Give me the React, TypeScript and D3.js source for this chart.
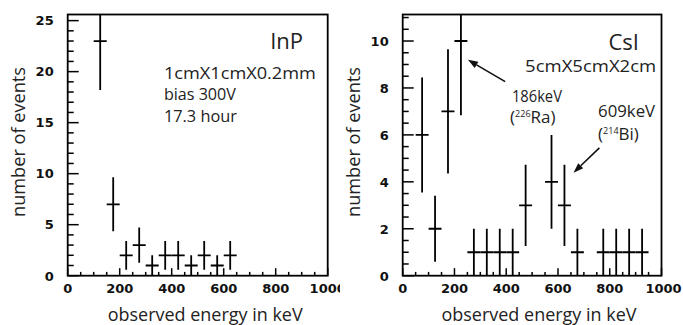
import { useRef, useEffect } from 'react';
import * as d3 from 'd3';

const WIDTH = 683;
const HEIGHT = 325;

// InP detector spectrum (50 keV bins)
const inpEnergy = [125, 175, 225, 275, 325, 375, 425, 475, 525, 575, 625];
const inpCounts = [23, 7, 2, 3, 1, 2, 2, 1, 2, 1, 2];
const inpErrors = [4.8, 2.65, 1.41, 1.73, 1, 1.41, 1.41, 1, 1.41, 1, 1.41];

// CsI detector spectrum (50 keV bins)
const csiEnergy = [75, 125, 175, 225, 275, 325, 375, 425, 475, 575, 625, 675, 775, 825, 875, 925];
const csiCounts = [6, 2, 7, 10, 1, 1, 1, 1, 3, 4, 3, 1, 1, 1, 1, 1];
const csiErrors = [2.45, 1.41, 2.65, 3.16, 1, 1, 1, 1, 1.73, 2, 1.73, 1, 1, 1, 1, 1];

const binHalfWidth = 25;

const xTickLabels = ['0', '200', '400', '600', '800', '1000'];
const inpYTickLabels = ['0', '5', '10', '15', '20', '25'];
const csiYTickLabels = ['0', '2', '4', '6', '8', '10'];

const xTitle = 'observed energy in keV';
const yTitle = 'number of events';

const TEXT_FONT = '"Open Sans", "DejaVu Sans", sans-serif';
const NUM_FONT = '"DejaVu Sans", sans-serif';

const drawPanel = (svg, cfg) => {
  const { x0, x1, top, bottom, yMax, yMajor, yMinorStep, yLabels, energy, counts, errors, clipRight } = cfg;
  const x = d3.scaleLinear().domain([0, 1000]).range([x0, x1]);
  const y = d3.scaleLinear().domain([0, yMax]).range([bottom, top]);

  const root = svg.append('g');
  if (clipRight) {
    root.append('clipPath').attr('id', `pc-${cfg.id}`)
      .append('rect').attr('x', 0).attr('y', 0).attr('width', clipRight).attr('height', HEIGHT);
    root.attr('clip-path', `url(#pc-${cfg.id})`);
  }

  // data clip
  root.append('clipPath').attr('id', `dc-${cfg.id}`)
    .append('rect').attr('x', x0).attr('y', top).attr('width', x1 - x0).attr('height', bottom - top);

  // x ticks (minor every 50, major every 200)
  const xMinor = d3.range(0, 1001, 50);
  root.append('g').selectAll('line').data(xMinor).join('line')
    .attr('x1', d => x(d)).attr('x2', d => x(d))
    .attr('y1', bottom).attr('y2', d => bottom - (d % 200 === 0 ? 7.5 : 3.8))
    .attr('stroke', '#000').attr('stroke-width', 1.5);

  // y ticks
  const yMinor = d3.range(0, yMax, yMinorStep);
  root.append('g').selectAll('line').data(yMinor).join('line')
    .attr('y1', d => y(d)).attr('y2', d => y(d))
    .attr('x1', x0).attr('x2', d => x0 + (yMajor.includes(+d.toFixed(2)) ? 11 : 6))
    .attr('stroke', '#000').attr('stroke-width', 1.5);

  // x tick labels
  root.append('g').selectAll('text').data(xTickLabels).join('text')
    .attr('x', (d, i) => x(+d) + (cfg.lastShift && i === xTickLabels.length - 1 ? cfg.lastShift : 0))
    .attr('y', bottom + 17)
    .attr('text-anchor', 'middle')
    .attr('font-family', NUM_FONT).attr('font-weight', 'bold').attr('font-size', 13)
    .attr('fill', '#111')
    .text(d => d);

  // y tick labels
  root.append('g').selectAll('text').data(yLabels).join('text')
    .attr('x', x0 - 14)
    .attr('y', d => y(+d) + 4.8)
    .attr('text-anchor', 'end')
    .attr('font-family', NUM_FONT).attr('font-weight', 'bold').attr('font-size', 13)
    .attr('fill', '#111')
    .text(d => d);

  // error bars
  const pts = energy.map((e, i) => ({ e, n: counts[i], err: errors[i] }));
  const data = root.append('g').attr('clip-path', `url(#dc-${cfg.id})`);
  data.selectAll('line.v').data(pts).join('line').attr('class', 'v')
    .attr('x1', d => x(d.e)).attr('x2', d => x(d.e))
    .attr('y1', d => y(d.n - d.err)).attr('y2', d => y(d.n + d.err))
    .attr('stroke', '#000').attr('stroke-width', 1.8);
  data.selectAll('line.h').data(pts).join('line').attr('class', 'h')
    .attr('x1', d => x(d.e - binHalfWidth)).attr('x2', d => x(d.e + binHalfWidth))
    .attr('y1', d => y(d.n)).attr('y2', d => y(d.n))
    .attr('stroke', '#000').attr('stroke-width', 1.8);

  // frame
  root.append('rect')
    .attr('x', x0).attr('y', top).attr('width', x1 - x0).attr('height', bottom - top)
    .attr('fill', 'none').attr('stroke', '#000').attr('stroke-width', 1.8);

  // axis titles
  root.append('text')
    .attr('x', x1 - 25).attr('y', 321)
    .attr('text-anchor', 'end')
    .attr('font-family', TEXT_FONT).attr('font-size', 18).attr('fill', '#222')
    .attr('textLength', 195).attr('lengthAdjust', 'spacingAndGlyphs')
    .text(xTitle);
  root.append('text')
    .attr('transform', `translate(${x0 - 43},67) rotate(-90)`)
    .attr('text-anchor', 'end')
    .attr('font-family', TEXT_FONT).attr('font-size', 18).attr('fill', '#222')
    .attr('textLength', 150).attr('lengthAdjust', 'spacingAndGlyphs')
    .text(yTitle);

  // annotations
  cfg.notes.forEach(n => {
    const t = root.append('text')
      .attr('x', x(n.e)).attr('y', y(n.v))
      .attr('text-anchor', n.anchor || 'start')
      .attr('font-family', TEXT_FONT).attr('font-size', n.size).attr('fill', '#222');
    if (n.sup) {
      t.append('tspan').text('(');
      t.append('tspan').attr('font-size', 9).attr('dy', -6).text(n.sup);
      t.append('tspan').attr('dy', 6).text(n.text + ')');
    } else {
      t.text(n.text);
      if (n.len) t.attr('textLength', n.len).attr('lengthAdjust', 'spacingAndGlyphs');
    }
  });

  (cfg.arrows || []).forEach(a => {
    const xs = x(a.from[0]), ys = y(a.from[1]);
    const xt = x(a.to[0]), yt = y(a.to[1]);
    const ang = Math.atan2(yt - ys, xt - xs);
    const L = 10, Wd = 3.6;
    const bx = xt - L * Math.cos(ang), by = yt - L * Math.sin(ang);
    root.append('line')
      .attr('x1', xs).attr('y1', ys).attr('x2', bx).attr('y2', by)
      .attr('stroke', '#111').attr('stroke-width', 1.6);
    root.append('path')
      .attr('d', `M${xt},${yt}L${bx + Wd * Math.sin(ang)},${by - Wd * Math.cos(ang)}L${bx - Wd * Math.sin(ang)},${by + Wd * Math.cos(ang)}Z`)
      .attr('fill', '#111');
  });
};

const App = () => {
  const svgRef = useRef(null);

  useEffect(() => {
    const svg = d3.select(svgRef.current);
    svg.selectAll('*').remove();

    drawPanel(svg, {
      id: 'inp', x0: 67.7, x1: 327.7, top: 14.5, bottom: 275.7, yMax: 25.6,
      yMajor: [0, 5, 10, 15, 20, 25], yMinorStep: 1, yLabels: inpYTickLabels,
      energy: inpEnergy, counts: inpCounts, errors: inpErrors, clipRight: 340,
      notes: [
        { text: 'InP', e: 905, v: 22.2, size: 22, anchor: 'end' },
        { text: '1cmX1cmX0.2mm', e: 370, v: 19.3, size: 17, len: 152 },
        { text: 'bias 300V', e: 370, v: 17.2, size: 17, len: 72 },
        { text: '17.3 hour', e: 370, v: 15.1, size: 17, len: 73 },
      ],
    });

    drawPanel(svg, {
      id: 'csi', x0: 402.7, x1: 661.5, top: 14.5, bottom: 275.7, yMax: 11.13,
      yMajor: [0, 2, 4, 6, 8, 10], yMinorStep: 0.5, yLabels: csiYTickLabels,
      energy: csiEnergy, counts: csiCounts, errors: csiErrors, lastShift: 2,
      notes: [
        { text: 'CsI', e: 913, v: 9.62, size: 22, anchor: 'end' },
        { text: '5cmX5cmX2cm', e: 473, v: 8.68, size: 16, len: 131 },
        { text: '186keV', e: 422, v: 7.4, size: 17, len: 50 },
        { text: 'Ra', sup: '226', e: 415, v: 6.5, size: 17 },
        { text: '609keV', e: 755, v: 6.76, size: 17, len: 57 },
        { text: 'Bi', sup: '214', e: 755, v: 5.8, size: 17 },
      ],
      arrows: [
        { from: [396, 8.27], to: [252, 9.2] },
        { from: [760, 5.45], to: [660, 4.39] },
      ],
    });
  }, []);

  return (
    <svg ref={svgRef} width={WIDTH} height={HEIGHT}
      style={{ position: 'absolute', left: 0, top: 0, background: '#fff' }} />
  );
};

export default App;
